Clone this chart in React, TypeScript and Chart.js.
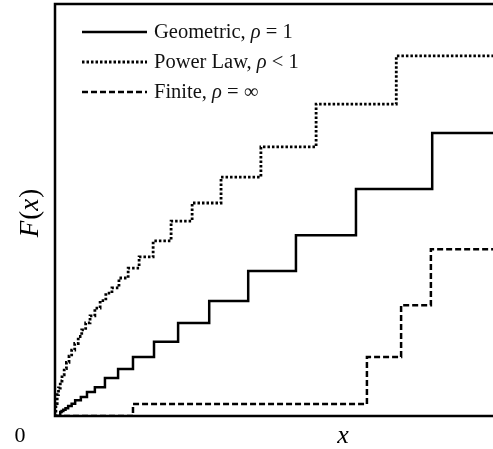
import { useEffect, useRef } from "react";
import { Chart, registerables } from "chart.js";

Chart.register(...registerables);

// Horizontal extent of the x axis (the frame continues past the visible edge)
const X_END = 1.05;

// Geometric, rho = 1: jump locations and CDF level reached at each jump
const geometricJumps = [0, 0.012, 0.015, 0.019, 0.024, 0.030, 0.038, 0.046, 0.059, 0.073, 0.091, 0.114, 0.144, 0.178, 0.226, 0.281, 0.352, 0.441, 0.550, 0.687, 0.861];
const geometricLevels = [0, 0.010, 0.012, 0.015, 0.019, 0.024, 0.030, 0.038, 0.046, 0.058, 0.070, 0.092, 0.114, 0.143, 0.180, 0.226, 0.279, 0.352, 0.439, 0.551, 0.687];

// Power law, rho < 1
const powerJumps = [0, 0.002, 0.005, 0.008, 0.012, 0.016, 0.021, 0.026, 0.032, 0.038, 0.045, 0.053, 0.061, 0.070, 0.080, 0.091, 0.103, 0.116, 0.130, 0.146, 0.167, 0.192, 0.224, 0.265, 0.313, 0.379, 0.470, 0.596, 0.779];
const powerLevels = [0, 0.030, 0.052, 0.068, 0.085, 0.100, 0.115, 0.130, 0.145, 0.160, 0.176, 0.193, 0.209, 0.226, 0.243, 0.262, 0.280, 0.298, 0.311, 0.335, 0.359, 0.386, 0.425, 0.473, 0.517, 0.580, 0.653, 0.757, 0.874];

// Finite, rho = infinity
const finiteJumps = [0, 0.178, 0.712, 0.790, 0.858];
const finiteLevels = [0, 0.029, 0.143, 0.269, 0.405];

const seriesLabels = ["Geometric, ρ = 1", "Power Law, ρ < 1", "Finite, ρ = ∞"];

const SERIF = '"Liberation Serif", "DejaVu Serif", serif';

function stepPoints(jumps: number[], levels: number[]) {
  const pts = jumps.map((x, i) => ({ x, y: levels[i] }));
  pts.push({ x: X_END, y: levels[levels.length - 1] });
  return pts;
}

// Draws text where every "ρ" is set in italic, like inline math
function drawMixed(ctx: CanvasRenderingContext2D, text: string, x: number, y: number, size: number) {
  let cx = x;
  const parts = text.split(/(ρ)/);
  for (const p of parts) {
    if (!p) continue;
    ctx.font = (p === "ρ" ? "italic " : "") + `${size}px ${SERIF}`;
    ctx.fillText(p, cx, y);
    cx += ctx.measureText(p).width;
  }
}

const framePlugin = {
  id: "frameAndText",
  afterDatasetsDraw(chart: any) {
    const { ctx, chartArea } = chart;
    ctx.save();
    // plot frame
    ctx.strokeStyle = "#000";
    ctx.lineWidth = 2.5;
    ctx.setLineDash([]);
    ctx.strokeRect(chartArea.left, chartArea.top, chartArea.right - chartArea.left, chartArea.bottom - chartArea.top);

    // legend, upper-left inside the frame
    ctx.fillStyle = "#111";
    ctx.textBaseline = "middle";
    ctx.textAlign = "left";
    const rows = [32, 62, 92];
    chart.data.datasets.forEach((ds: any, i: number) => {
      const y = rows[i];
      ctx.beginPath();
      ctx.lineWidth = ds.borderWidth;
      ctx.strokeStyle = ds.borderColor;
      ctx.setLineDash(ds.borderDash || []);
      ctx.moveTo(82, y);
      ctx.lineTo(147, y);
      ctx.stroke();
      ctx.setLineDash([]);
      drawMixed(ctx, ds.label, 154, y + 1, 20.5);
    });

    // axis labels
    ctx.fillStyle = "#000";
    ctx.textAlign = "center";
    ctx.font = `italic 26px ${SERIF}`;
    ctx.fillText("x", 343, 436);
    ctx.font = `22px ${SERIF}`;
    ctx.fillText("0", 20, 436);

    ctx.translate(31, 213);
    ctx.rotate(-Math.PI / 2);
    ctx.textAlign = "left";
    const pieces: [string, boolean][] = [["F", true], ["(", false], ["x", true], [")", false]];
    let total = 0;
    for (const [t, it] of pieces) {
      ctx.font = (it ? "italic " : "") + `27px ${SERIF}`;
      total += ctx.measureText(t).width + (it ? 1 : 0);
    }
    let px = -total / 2;
    for (const [t, it] of pieces) {
      ctx.font = (it ? "italic " : "") + `27px ${SERIF}`;
      ctx.fillText(t, px, 0);
      px += ctx.measureText(t).width + (it ? 1 : 0);
    }
    ctx.restore();
  },
};

export default function App() {
  const canvasRef = useRef<HTMLCanvasElement | null>(null);

  useEffect(() => {
    const canvas = canvasRef.current;
    if (!canvas) return;
    const chart = new Chart(canvas, {
      type: "line",
      data: {
        datasets: [
          {
            label: seriesLabels[0],
            data: stepPoints(geometricJumps, geometricLevels),
            stepped: "before",
            borderColor: "#000",
            borderWidth: 2.5,
            pointRadius: 0,
            fill: false,
          },
          {
            label: seriesLabels[1],
            data: stepPoints(powerJumps, powerLevels),
            stepped: "before",
            borderColor: "#000",
            borderWidth: 2.8,
            borderDash: [2.5, 2],
            pointRadius: 0,
            fill: false,
          },
          {
            label: seriesLabels[2],
            data: stepPoints(finiteJumps, finiteLevels),
            stepped: "before",
            borderColor: "#000",
            borderWidth: 2.5,
            borderDash: [6, 3],
            pointRadius: 0,
            fill: false,
          },
        ],
      },
      options: {
        responsive: false,
        animation: false,
        devicePixelRatio: 1,
        layout: { padding: { left: 55, top: 4, right: 25, bottom: 33 } },
        plugins: { legend: { display: false }, tooltip: { enabled: false } },
        scales: {
          x: { type: "linear", min: 0, max: X_END, display: false },
          y: { type: "linear", min: 0, max: 1, display: false },
        },
      },
      plugins: [framePlugin],
    });
    return () => chart.destroy();
  }, []);

  return (
    <div style={{ position: "fixed", left: 0, top: 0, width: 493, height: 449, overflow: "hidden", background: "#fff" }}>
      <canvas ref={canvasRef} width={540} height={449} style={{ display: "block" }} />
    </div>
  );
}
